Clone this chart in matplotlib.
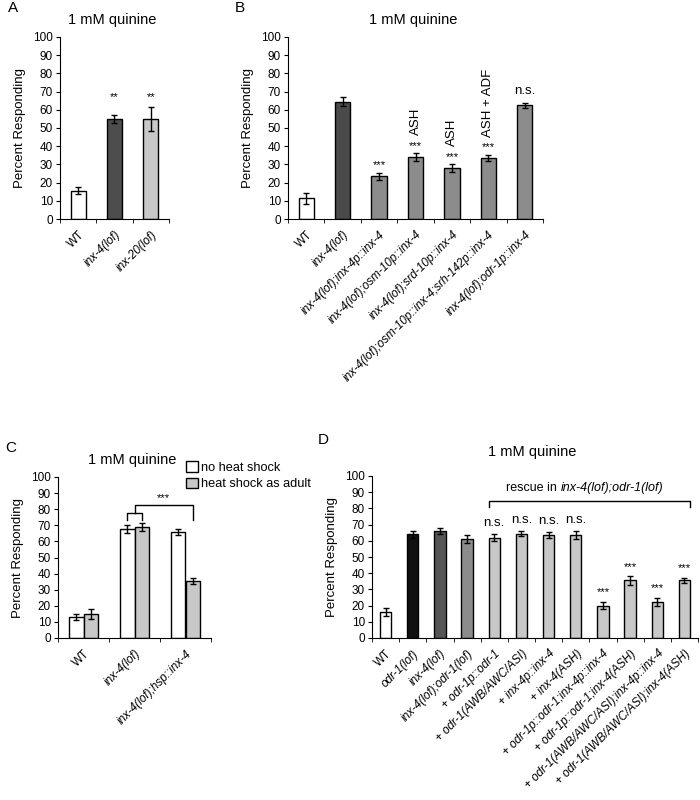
import matplotlib
matplotlib.use('Agg')
import matplotlib.pyplot as plt
from matplotlib.patches import Patch
import numpy as np

plt.rcParams['font.family'] = ['Liberation Sans', 'DejaVu Sans']

# panel A
a_labels = ['WT', 'inx-4(lof)', 'inx-20(lof)']
a_values = [15.5, 55, 55]
a_errors = [2, 2, 6.5]
a_colors = ['white', '#4d4d4d', '#c8c8c8']
a_marks = ['', '**', '**']

# panel B
b_labels = ['WT', 'inx-4(lof)', 'inx-4(lof);inx-4p::inx-4', 'inx-4(lof);osm-10p::inx-4',
            'inx-4(lof);srd-10p::inx-4', 'inx-4(lof);osm-10p::inx-4;srh-142p::inx-4',
            'inx-4(lof);odr-1p::inx-4']
b_values = [11.5, 64.5, 23.5, 34, 28, 33.5, 62.5]
b_errors = [3, 2.5, 2, 2, 2, 1.8, 1.5]
b_colors = ['white', '#4a4a4a', '#8c8c8c', '#8c8c8c', '#8c8c8c', '#8c8c8c', '#8c8c8c']
b_marks = ['', '', '***', '***', '***', '***', 'n.s.']
b_cells = ['', '', '', 'ASH', 'ASH', 'ASH + ADF', '']

# panel C
c_labels = ['WT', 'inx-4(lof)', 'inx-4(lof);hsp::inx-4']
c_no_heat = [13, 67.5, 66]
c_no_heat_err = [2, 2.5, 2]
c_heat = [15, 69, 35.5]
c_heat_err = [3, 2.5, 2]
c_series = ['no heat shock', 'heat shock as adult']

# panel D
d_labels = ['WT', 'odr-1(lof)', 'inx-4(lof)', 'inx-4(lof);odr-1(lof)',
            '+ odr-1p::odr-1', '+ odr-1(AWB/AWC/ASI)', '+ inx-4p::inx-4', '+ inx-4(ASH)',
            '+ odr-1p::odr-1;inx-4p::inx-4', '+ odr-1p::odr-1;inx-4(ASH)',
            '+ odr-1(AWB/AWC/ASI);inx-4p::inx-4', '+ odr-1(AWB/AWC/ASI);inx-4(ASH)']
d_values = [16, 64, 66, 61, 62, 64.5, 63.5, 63.5, 20, 35.5, 22, 35.5]
d_errors = [2.5, 2, 2, 2.5, 2, 1.5, 2, 2.5, 2, 2.5, 2.5, 1.5]
d_colors = ['white', '#111111', '#555555', '#8c8c8c'] + ['#c8c8c8'] * 8
d_marks = ['', '', '', '', 'n.s.', 'n.s.', 'n.s.', 'n.s.', '***', '***', '***', '***']


def style(ax, labels):
    n = len(labels)
    ax.set_xlim(-0.5, n - 0.5)
    ax.set_ylim(0, 100)
    ax.set_yticks(range(0, 101, 10))
    ax.set_xticks(range(n))
    ax.set_xticklabels(labels, rotation=45, ha='right', va='top',
                       rotation_mode='anchor', fontsize=8.5)
    for t, lab in zip(ax.get_xticklabels(), labels):
        if lab != 'WT':
            t.set_fontstyle('italic')
    ax.set_xticks(np.arange(n + 1) - 0.5, minor=True)
    ax.tick_params(axis='x', which='major', length=0, pad=7)
    ax.tick_params(axis='x', which='minor', length=3, direction='out')
    ax.tick_params(axis='y', length=3, direction='out', labelsize=8.5, pad=2)
    ax.spines['top'].set_visible(False)
    ax.spines['right'].set_visible(False)
    ax.set_ylabel('Percent Responding', fontsize=9.5, labelpad=5)


def bars(ax, values, errors, colors, width):
    x = np.arange(len(values))
    ax.bar(x, values, width=width, color=colors, edgecolor='black', linewidth=1,
           yerr=errors, capsize=2.5, error_kw=dict(elinewidth=1, capthick=1))
    return x


fig = plt.figure(figsize=(7, 8), dpi=100)

# A
axA = fig.add_axes([60 / 700, 1 - 219 / 800, 109 / 700, 182 / 800])
x = bars(axA, a_values, a_errors, a_colors, 0.42)
for xi, v, e, m in zip(x, a_values, a_errors, a_marks):
    if m:
        axA.text(xi, 64, m, ha='center', va='bottom', fontsize=8)
style(axA, a_labels)

# B
axB = fig.add_axes([288 / 700, 1 - 219 / 800, 255 / 700, 182 / 800])
x = bars(axB, b_values, b_errors, b_colors, 0.42)
for xi, v, e, m, c in zip(x, b_values, b_errors, b_marks, b_cells):
    if m == 'n.s.':
        axB.text(xi, v + e + 3, m, ha='center', va='bottom', fontsize=9.5)
    elif m:
        axB.text(xi, v + e + 1.5, m, ha='center', va='bottom', fontsize=8)
    if c:
        axB.text(xi, v + e + 10, c, ha='center', va='bottom', rotation=90, fontsize=9.5)
style(axB, b_labels)

# C
axC = fig.add_axes([58 / 700, 1 - 638 / 800, 153 / 700, 161 / 800])
xc = np.arange(len(c_labels))
w = 0.28
axC.bar(xc - w / 2, c_no_heat, width=w, color='white', edgecolor='black', linewidth=1,
        yerr=c_no_heat_err, capsize=2.5, error_kw=dict(elinewidth=1, capthick=1))
axC.bar(xc + w / 2, c_heat, width=w, color='#c8c8c8', edgecolor='black', linewidth=1,
        yerr=c_heat_err, capsize=2.5, error_kw=dict(elinewidth=1, capthick=1))
style(axC, c_labels)
axC.plot([1 - w / 2, 1 - w / 2, 1 + w / 2, 1 + w / 2], [73, 77.5, 77.5, 73],
         color='black', lw=1, clip_on=False)
axC.plot([1, 1, 2 + w / 2, 2 + w / 2], [77.5, 82.5, 82.5, 73],
         color='black', lw=1, clip_on=False)
axC.text(1.57, 83.5, '***', ha='center', va='bottom', fontsize=8)
handles = [Patch(facecolor='white', edgecolor='black', linewidth=1),
           Patch(facecolor='#c8c8c8', edgecolor='black', linewidth=1)]
fig.legend(handles, c_series, loc='upper left', bbox_to_anchor=(186 / 700, 1 - 461 / 800),
           frameon=False, fontsize=9.2, handlelength=0.9, handleheight=0.9,
           handletextpad=0.3, borderaxespad=0, borderpad=0, labelspacing=0.3)

# D
axD = fig.add_axes([372 / 700, 1 - 638 / 800, 326 / 700, 162 / 800])
x = bars(axD, d_values, d_errors, d_colors, 0.42)
for xi, v, e, m in zip(x, d_values, d_errors, d_marks):
    if m == 'n.s.':
        axD.text(xi, v + e + 3, m, ha='center', va='bottom', fontsize=9.5)
    elif m:
        axD.text(xi, v + e + 3, m, ha='center', va='bottom', fontsize=8)
style(axD, d_labels)
axD.plot([3.8, 3.8, 11.2, 11.2], [81, 84.6, 84.6, 81], color='black', lw=1, clip_on=False)
axD.text(6.45, 89, 'rescue in ', ha='right', va='bottom', fontsize=9)
axD.text(6.45, 89, 'inx-4(lof);odr-1(lof)', ha='left', va='bottom', fontsize=9,
         fontstyle='italic')

# titles and panel letters
for px, py, s in [(112, 20, '1 mM quinine'), (413, 20, '1 mM quinine'),
                  (132, 460, '1 mM quinine'), (532, 452, '1 mM quinine')]:
    fig.text(px / 700, 1 - py / 800, s, ha='center', va='center', fontsize=10.5)
for px, py, s in [(8, 8, 'A'), (235, 8, 'B'), (5, 448, 'C'), (318, 440, 'D')]:
    fig.text(px / 700, 1 - py / 800, s, ha='left', va='center', fontsize=11)

fig.savefig('out.png', dpi=100)
